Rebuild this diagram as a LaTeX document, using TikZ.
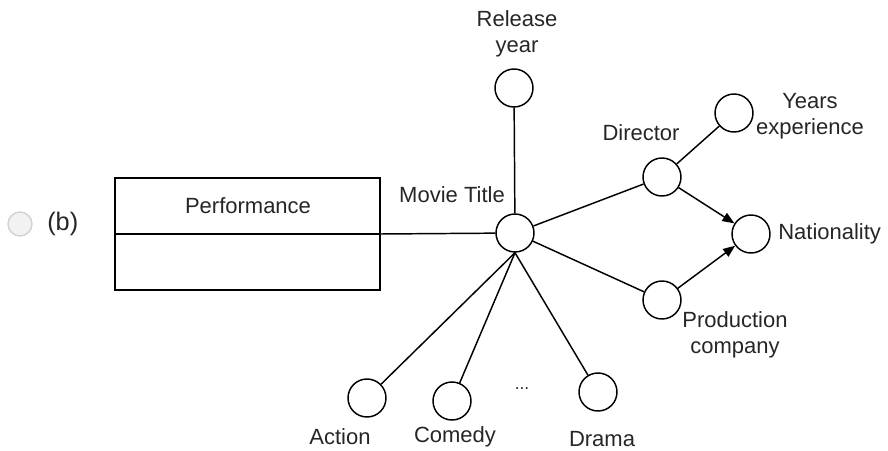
\documentclass[tikz,border=0pt]{standalone}
\usepackage{fontspec}
\setmainfont{Liberation Sans}
\usetikzlibrary{arrows.meta}
\tikzset{
  attr/.style={circle,draw=black,line width=1.1pt,minimum size=28.5pt,inner sep=0pt,fill=white},
  lbl/.style={text=black!85,font=\fontsize{16.5}{19.5}\selectfont,inner sep=0pt,align=center},
  conn/.style={line width=1.1pt,draw=black},
  arr/.style={conn,-{Triangle[length=9pt,width=7pt]}}
}
\begin{document}
\begin{tikzpicture}[x=0.75pt,y=-0.75pt]
\useasboundingbox (0,0) rectangle (888,450);
% radio button
\node[circle,draw=black!18,fill=black!5,line width=1pt,minimum size=18pt,inner sep=0pt] (radio) at (20,224) {};
\node[lbl,anchor=west,font=\fontsize{19}{22}\selectfont] (b) at (47,224) {(b)};
% entity
\draw[line width=1.1pt] (115,178) rectangle (380,290);
\coordinate (rectR) at (380,234);
\coordinate (divL) at (115,234);
\draw[line width=1.1pt] (divL) -- (rectR);
\node[lbl] (perf) at (248,206) {Performance};
% attributes
\node[attr] (movie) at (515,233) {};
\node[lbl] (movielbl) at (452,195) {Movie Title};
\node[attr] (rel) at (514,88) {};
\node[lbl] (rellbl) at (517,34) {Release\\year};
\node[attr] (dir) at (662,177) {};
\node[lbl] (dirlbl) at (641,133) {Director};
\node[attr] (yrs) at (734,113) {};
\node[lbl] (yrslbl) at (810,116) {Years\\experience};
\node[attr] (nat) at (751,234) {};
\node[lbl,anchor=west] (natlbl) at (778,234) {Nationality};
\node[attr] (prod) at (662,300) {};
\node[lbl] (prodlbl) at (735,335) {Production\\company};
\node[attr] (act) at (367,398) {};
\node[lbl] (actlbl) at (340,437) {Action};
\node[attr] (com) at (452,401) {};
\node[lbl] (comlbl) at (455,437) {Comedy};
\node[attr] (dra) at (598,392) {};
\node[lbl] (dralbl) at (602,439) {Drama};
\node[lbl,font=\fontsize{13}{15}\selectfont] (dots) at (522,389) {...};
% connectors
\draw[conn] (rectR) -- (movie);
\draw[conn] (rel) -- (movie);
\draw[conn] (movie) -- (dir);
\draw[conn] (movie) -- (prod);
\draw[conn] (dir) -- (yrs);
\draw[arr] (dir) -- (nat);
\draw[arr] (prod) -- (nat);
\draw[conn] (movie.south) -- (act);
\draw[conn] (movie.south) -- (com);
\draw[conn] (movie.south) -- (dra);
\end{tikzpicture}
\end{document}
